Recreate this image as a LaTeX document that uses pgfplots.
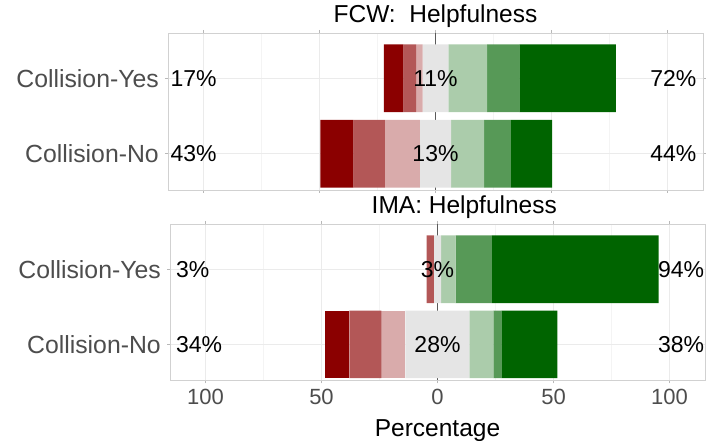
\documentclass[border=0pt]{standalone}
\usepackage{fontspec}
\setmainfont{Liberation Sans}
\usepackage{pgfplots}
\usepackage{pgfplotstable}
\pgfplotsset{compat=1.18}

% Likert palette: strong/moderate/slight disagreement, neutral, slight/moderate/strong agreement
\definecolor{negstrong}{HTML}{8B0000}
\definecolor{negmid}{HTML}{B35757}
\definecolor{negweak}{HTML}{D9ABAB}
\definecolor{neutral}{HTML}{E5E5E5}
\definecolor{posweak}{HTML}{ABCCAB}
\definecolor{posmid}{HTML}{579957}
\definecolor{posstrong}{HTML}{006400}
\definecolor{framegray}{HTML}{D1D1D1}
\definecolor{gridgray}{HTML}{EBEBEB}
\definecolor{minorgray}{HTML}{F4F4F4}
\definecolor{labelgray}{HTML}{4D4D4D}
\definecolor{zerogray}{HTML}{5A5A5A}

% y: 2 = Collision-Yes, 1 = Collision-No
% start: left end of the bar; s1..s3 negative shares, neu neutral share, p1..p3 positive shares (percent)
\pgfplotstableread{
y start  s1    s2    s3    neu   p1    p2    p3
2 -22.22 8.33  5.56  2.78  11.11 16.67 13.89 41.67
1 -49.60 14.20 13.60 15.10 13.40 14.30 11.50 17.80
}\fcwdata

\pgfplotstableread{
y start  s1    s2    s3    neu   p1    p2    p3
2 -4.69  0     3.13  0     3.13  6.25  15.63 71.88
1 -48.28 10.34 13.79 10.34 27.59 10.34 3.45  24.14
}\imadata

\pgfplotsset{
  likert/.style={
    xbar stacked, stack negative=on previous, bar width=0.9,
    scale only axis, width=535pt,
    xmin=-115.3, xmax=115.3, ymin=0.52, ymax=2.6,
    ytick={1,2}, yticklabels={Collision-No,Collision-Yes},
    xtick={-100,-50,0,50,100}, minor x tick num=1,
    xmajorgrids, xminorgrids, ymajorgrids,
    major grid style={gridgray, line width=0.9pt},
    minor grid style={minorgray, line width=0.6pt},
    axis line style={framegray, line width=0.9pt},
    tick align=outside, major tick length=3pt, minor tick length=0pt,
    tick style={black!28, line width=0.9pt},
    yticklabel style={labelgray, font=\fontsize{24.8}{28}\selectfont, inner sep=0pt, xshift=-6pt},
    xticklabel style={labelgray, font=\fontsize{22}{26}\selectfont, inner sep=0pt, yshift=-5pt},
    extra x ticks={0}, extra x tick labels={},
    extra x tick style={major grid style={zerogray, line width=1.3pt}, major tick length=0pt},
    title style={font=\fontsize{24.5}{28}\selectfont, inner sep=0pt, anchor=base},
    clip=false,
  },
}
\tikzset{pct/.style={font=\fontsize{23}{27}\selectfont, inner sep=0pt}}

% the first, unfilled series shifts each stack to its left end
\newcommand{\likertbars}[1]{%
  \addplot[draw=none, fill=none] table[x=start, y=y]{#1};
  \addplot[fill=negstrong, draw=none] table[x=s1, y=y]{#1};
  \addplot[fill=negmid, draw=none] table[x=s2, y=y]{#1};
  \addplot[fill=negweak, draw=none] table[x=s3, y=y]{#1};
  \addplot[fill=neutral, draw=none] table[x=neu, y=y]{#1};
  \addplot[fill=posweak, draw=none] table[x=p1, y=y]{#1};
  \addplot[fill=posmid, draw=none] table[x=p2, y=y]{#1};
  \addplot[fill=posstrong, draw=none] table[x=p3, y=y]{#1};
}

\begin{document}
\begin{tikzpicture}[x=1pt, y=1pt]
% FCW panel
\begin{axis}[likert, at={(168pt,251pt)}, anchor=south west, height=157pt,
  xticklabels={},
  title={FCW:\ \ Helpfulness},
  title style={at={(axis description cs:0.5,1)}, yshift=4.4pt}]
  \likertbars{\fcwdata}
  \coordinate (fL2) at (axis cs:-114.3,2);
  \coordinate (fC2) at (axis cs:0,2);
  \coordinate (fR2) at (axis cs:112.5,2);
  \coordinate (fL1) at (axis cs:-114.3,1);
  \coordinate (fC1) at (axis cs:0,1);
  \coordinate (fR1) at (axis cs:112.5,1);
\end{axis}
% IMA panel
\begin{axis}[likert, at={(170pt,60.5pt)}, anchor=south west, height=156.5pt,
  xticklabels={100,50,0,50,100},
  xlabel={Percentage},
  xlabel style={font=\fontsize{24.5}{28}\selectfont, inner sep=0pt,
    at={(axis description cs:0.5,0)}, anchor=base, yshift=-55.5pt},
  title={IMA: Helpfulness},
  title style={at={(axis description cs:0.5,1)}, xshift=26.8pt, yshift=4.7pt}]
  \likertbars{\imadata}
  \coordinate (iL2) at (axis cs:-112.8,2);
  \coordinate (iC2) at (axis cs:0,2);
  \coordinate (iR2) at (axis cs:115,2);
  \coordinate (iL1) at (axis cs:-112.8,1);
  \coordinate (iC1) at (axis cs:0,1);
  \coordinate (iR1) at (axis cs:115,1);
\end{axis}
% share labels: disagree (left), neutral (centre), agree (right)
\node[pct, anchor=west] at (fL2) {17\%};
\node[pct] at (fC2) {11\%};
\node[pct, anchor=east] at (fR2) {72\%};
\node[pct, anchor=west] at (fL1) {43\%};
\node[pct] at (fC1) {13\%};
\node[pct, anchor=east] at (fR1) {44\%};
\node[pct, anchor=west] at (iL2) {3\%};
\node[pct] at (iC2) {3\%};
\node[pct, anchor=east] at (iR2) {94\%};
\node[pct, anchor=west] at (iL1) {34\%};
\node[pct] at (iC1) {28\%};
\node[pct, anchor=east] at (iR1) {38\%};
\pgfresetboundingbox
\path[use as bounding box] (0,0) rectangle (706pt,441pt);
\end{tikzpicture}
\end{document}
